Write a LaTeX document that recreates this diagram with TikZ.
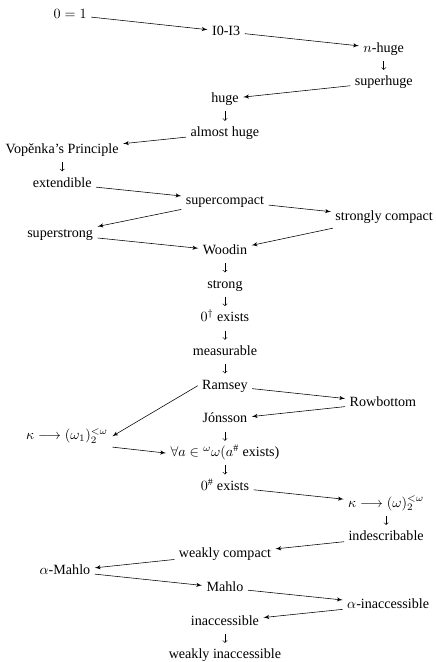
\documentclass[tikz,border=0pt]{standalone}
\usepackage{fontspec}
\setmainfont{Liberation Serif}
\usetikzlibrary{arrows}

\begin{document}
\begin{tikzpicture}

\tikzset{vertex/.style = {inner sep=3pt, text height=7pt, text depth=2pt}}
\tikzset{edge/.style = {->,> = latex', thin}}
\tikzset{down/.style = {->,> = to, thin, shorten <= 1pt, shorten >= 1pt}}
\useasboundingbox (0,0) rectangle (10.87,-16.51);
%verticies
\node[vertex] (1) at (1.75,-0.37) {$0=1$};
\node[vertex] (2) at (5.64,-0.79) {I0-I3};
\node[vertex] (3) at (9.57,-1.21) {$n$-huge};
\node[vertex] (4) at (9.57,-2.05) {superhuge};
\node[vertex] (5) at (5.61,-2.47) {huge};
\node[vertex] (6) at (5.61,-3.32) {almost huge};
\node[vertex] (7) at (1.55,-3.74) {Vopěnka's Principle};
\node[vertex] (8) at (1.55,-4.58) {extendible};
\node[vertex] (9) at (5.61,-5.00) {supercompact};
\node[vertex] (10) at (9.58,-5.42) {strongly compact};
\node[vertex] (11) at (1.50,-5.84) {superstrong};
\node[vertex] (12) at (5.61,-6.26) {Woodin};
\node[vertex] (13) at (5.61,-7.10) {strong};
\node[vertex] (14) at (5.61,-7.94) {$0^\dagger$ exists};
\node[vertex] (15) at (5.61,-8.78) {measurable};
\node[vertex] (16) at (5.61,-9.62) {Ramsey};
\node[vertex] (17) at (9.55,-10.04) {Rowbottom};
\node[vertex] (18) at (5.61,-10.46) {Jónsson};
\node[vertex] (19) at (1.67,-10.88) {$\kappa\longrightarrow(\omega_1)_2^{<\omega}$};
\node[vertex] (20) at (5.61,-11.30) {$\forall a\in{}^\omega\omega(a^\#$ exists)};
\node[vertex] (21) at (5.61,-12.14) {$0^\#$ exists};
\node[vertex] (22) at (9.63,-12.56) {$\kappa\longrightarrow(\omega)_2^{<\omega}$};
\node[vertex] (23) at (9.63,-13.40) {indescribable};
\node[vertex] (24) at (5.61,-13.82) {weakly compact};
\node[vertex] (25) at (1.62,-14.24) {$\alpha$-Mahlo};
\node[vertex] (26) at (5.61,-14.66) {Mahlo};
\node[vertex] (27) at (9.68,-15.08) {$\alpha$-inaccessible};
\node[vertex] (28) at (5.61,-15.50) {inaccessible};
\node[vertex] (29) at (5.61,-16.34) {weakly inaccessible};
%edges
\draw [edge] (1) -- (2);
\draw [edge] (2) -- (3);
\draw [down] (3) -- (4);
\draw [edge] (4) -- (5);
\draw [down] (5) -- (6);
\draw [edge] (6) -- (7);
\draw [down] (7) -- (8);
\draw [edge] (8) -- (9);
\draw [edge] (9) -- (11);
\draw [edge] (9) -- (10);
\draw [edge] (10) -- (12);
\draw [edge] (11) -- (12);
\draw [down] (12) -- (13);
\draw [down] (13) -- (14);
\draw [down] (14) -- (15);
\draw [down] (15) -- (16);
\draw [edge] (16.west) -- (19.east);
\draw [edge] (16) -- (17);
\draw [edge] (17) -- (18);
\draw [down] (18) -- (20);
\draw [edge] (19.south east) -- (20.west);
\draw [down] (20) -- (21);
\draw [edge] (21) -- (22);
\draw [down] (22) -- (23);
\draw [edge] (23) -- (24);
\draw [edge] (24) -- (25);
\draw [edge] (25) -- (26);
\draw [edge] (26) -- (27);
\draw [edge] (27) -- (28);
\draw [down] (28) -- (29);

\end{tikzpicture}
\end{document}
